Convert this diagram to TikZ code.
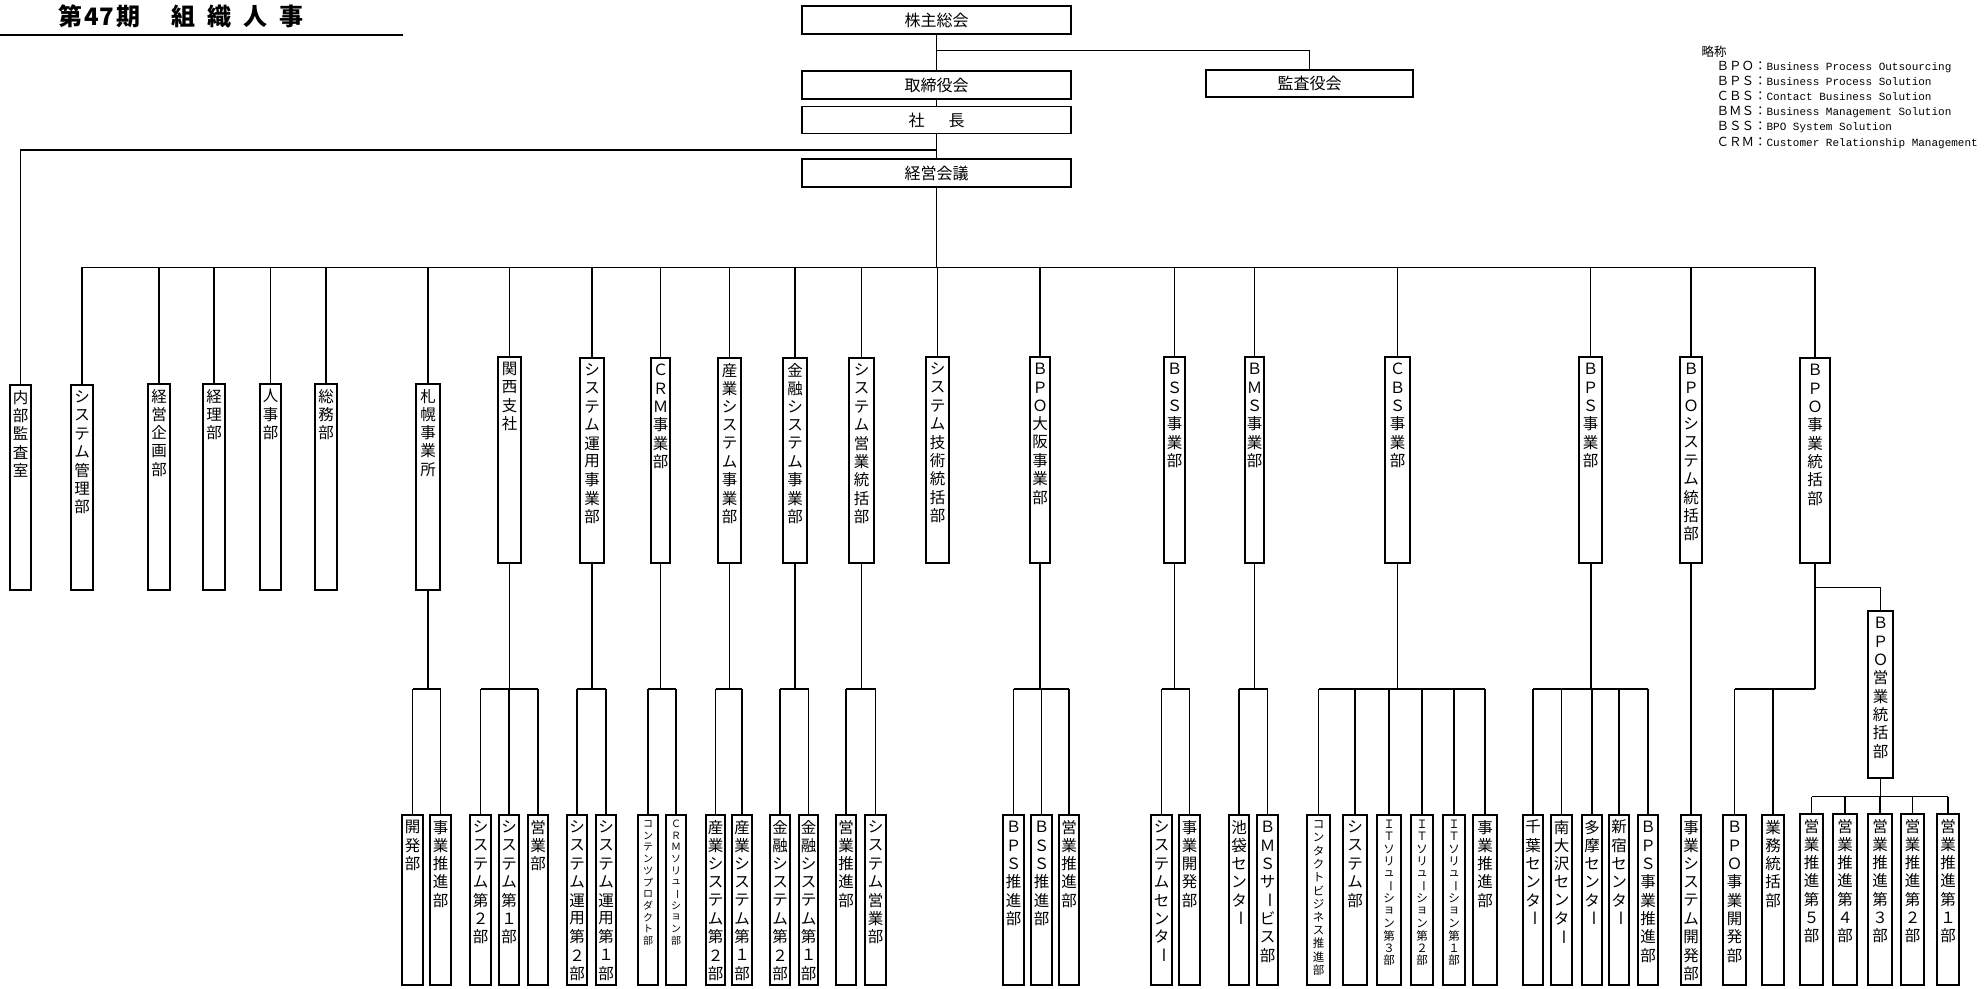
\documentclass[tikz,border=0pt]{standalone}
\usepackage{fontspec}
\usepackage{graphicx}
\setmainfont{Noto Sans CJK JP}
\newfontfamily\lmono{Liberation Mono}
\ExplSyntaxOn
\NewDocumentCommand\vtchar{m}{\str_if_eq:nnTF{#1}{ー}{\rotatebox[origin=c]{-90}{ー}}{#1}}
\NewDocumentCommand\vcol{mmmmm}{
  \vbox to #2 {
    \offinterlineskip
    \fontsize{#3}{#3}\selectfont
    \kern3pt
    \tl_map_inline:nn {#5}{
      \vbox to #4 {\vss\hbox to #1 {\hss\vtchar{##1}\hss}\vss}
    }
    \vss
  }
}
\ExplSyntaxOff
\newcommand\vbs[8]{\node[vbx] (#1) at ({(#2+#3)/2},{(#4+#5)/2}) {\vcol{\dimexpr#3pt-#2pt\relax}{\dimexpr#5pt-#4pt\relax}{#6}{#7}{#8}};}
\newcommand\vb[6]{\vbs{#1}{#2}{#3}{#4}{#5}{15.5pt}{18.3pt}{#6}}
\newcommand\vbb[4]{\vb{#1}{#2}{#3}{815}{985}{#4}}
\newcommand\grp[4]{%
  \draw (#1.south) -- (#1.south |- lvl2);
  \draw (#2.north |- lvl2) -- (#3.north |- lvl2);
  \foreach \c in {#4} {\draw (\c.north) -- (\c.north |- lvl2);}
}
\begin{document}
\begin{tikzpicture}[x=1pt,y=-1pt,line width=1.1pt,
  vbx/.style={draw,inner sep=0pt,outer sep=0pt,anchor=center},
  hbx/.style={draw,inner sep=0pt,outer sep=0pt,anchor=center,minimum width=269pt,minimum height=28pt,font=\fontsize{16}{16}\selectfont},
  leg/.style={anchor=base west,inner sep=0pt,font=\fontsize{12.5}{12.5}\selectfont}]
\useasboundingbox (0,0) rectangle (1984,988);
\fill[white] (0,0) rectangle (1984,988);

% title
\node[anchor=base west,inner sep=0pt,font=\bfseries\fontsize{24}{24}\selectfont] (title) at (58,25)
  {第\makebox[34pt]{47}期\hspace{31pt}組\hspace{12pt}織\hspace{12pt}人\hspace{12pt}事};
\coordinate (ulA) at (0,35);
\coordinate (ulB) at (403,35);
\draw[line width=2.5pt] (ulA) -- (ulB);

% legend
\node[leg] (l0) at (1701,56) {略称};
\node[leg] (l1) at (1716,70) {ＢＰＯ：{\lmono\fontsize{11}{11}\selectfont Business Process Outsourcing}};
\node[leg] (l2) at (1716,85) {ＢＰＳ：{\lmono\fontsize{11}{11}\selectfont Business Process Solution}};
\node[leg] (l3) at (1716,100) {ＣＢＳ：{\lmono\fontsize{11}{11}\selectfont Contact Business Solution}};
\node[leg] (l4) at (1716,115) {ＢＭＳ：{\lmono\fontsize{11}{11}\selectfont Business Management Solution}};
\node[leg] (l5) at (1716,130.5) {ＢＳＳ：{\lmono\fontsize{11}{11}\selectfont BPO System Solution}};
\node[leg] (l6) at (1716,146) {ＣＲＭ：{\lmono\fontsize{11}{11}\selectfont Customer Relationship Management}};

% top boxes
\node[hbx] (kabu) at (936.5,20) {株主総会};
\node[hbx] (tori) at (936.5,85) {取締役会};
\node[hbx,minimum width=207pt,minimum height=27pt] (kansa) at (1309.5,83.5) {監査役会};
\node[hbx,minimum height=27pt] (shacho) at (936.5,120) {社\hspace{24pt}長};
\node[hbx] (keiei) at (936.5,173) {経営会議};

% level 1
\vb{naibu}{10}{31}{385}{590}{内部監査室}
\vb{sysk}{71}{93}{385}{590}{システム管理部}
\vb{keiki}{148}{170}{384}{590}{経営企画部}
\vb{keiri}{203}{225}{384}{590}{経理部}
\vb{jinji}{260}{281}{384}{590}{人事部}
\vb{soumu}{315}{337}{384}{590}{総務部}
\vb{sapporo}{416}{440}{384}{590}{札幌事業所}
\vb{kansai}{498}{521}{357}{563}{関西支社}
\vb{unyo}{580}{604}{358}{563}{システム運用事業部}
\vb{crm}{651}{670}{358}{563}{ＣＲＭ事業部}
\vb{sangyo}{718}{741}{358}{563}{産業システム事業部}
\vb{kinyu}{783}{807}{358}{563}{金融システム事業部}
\vb{syseig}{849}{874}{358}{563}{システム営業統括部}
\vb{gijutsu}{926}{949}{357}{563}{システム技術統括部}
\vb{osaka}{1030}{1050}{357}{563}{ＢＰＯ大阪事業部}
\vb{bss}{1164}{1185}{357}{563}{ＢＳＳ事業部}
\vb{bms}{1245}{1264}{357}{563}{ＢＭＳ事業部}
\vb{cbs}{1385}{1410}{357}{563}{ＣＢＳ事業部}
\vb{bps}{1579}{1602}{357}{563}{ＢＰＳ事業部}
\vb{bposys}{1680}{1702}{357}{563}{ＢＰＯシステム統括部}
\vb{bpojg}{1800}{1830}{358}{563}{ＢＰＯ事業統括部}
\vb{bpoeig}{1868}{1893}{611}{778}{ＢＰＯ営業統括部}

% level 2
\vbb{kaihatsu}{402}{423}{開発部}
\vbb{sjs}{430}{451}{事業推進部}
\vbb{ks2}{470}{491}{システム第２部}
\vbb{ks1}{499}{519}{システム第１部}
\vbb{keig}{528}{548}{営業部}
\vbb{un2}{567}{587}{システム運用第２部}
\vbb{un1}{596}{616}{システム運用第１部}
\vbs{cont}{638}{658}{815}{985}{10pt}{11.7pt}{コンテンツプロダクト部}
\vbs{crms}{666}{686}{815}{985}{10pt}{11.7pt}{ＣＲＭソリューション部}
\vbb{sg2}{706}{725}{産業システム第２部}
\vbb{sg1}{732}{752}{産業システム第１部}
\vbb{kn2}{770}{790}{金融システム第２部}
\vbb{kn1}{799}{818}{金融システム第１部}
\vbb{ses}{836}{856}{営業推進部}
\vbb{syse}{865}{886}{システム営業部}
\vbb{bpss}{1003}{1024}{ＢＰＳ推進部}
\vbb{bsss}{1031}{1052}{ＢＳＳ推進部}
\vbb{osei}{1059}{1079}{営業推進部}
\vbb{syscen}{1151}{1172}{システムセンター}
\vbb{jkh}{1179}{1200}{事業開発部}
\vbb{ikeb}{1229}{1249}{池袋センター}
\vbb{bmss}{1257}{1278}{ＢＭＳサービス部}
\vbs{ctbs}{1307}{1330}{815}{985}{11.5pt}{13.2pt}{コンタクトビジネス推進部}
\vbb{cbsys}{1343}{1367}{システム部}
\vbs{it3}{1377}{1401}{815}{985}{11.5pt}{12.4pt}{ＩＴソリューション第３部}
\vbs{it2}{1411}{1433}{815}{985}{11.5pt}{12.4pt}{ＩＴソリューション第２部}
\vbs{it1}{1443}{1465}{815}{985}{11.5pt}{12.4pt}{ＩＴソリューション第１部}
\vbb{cbsj}{1473}{1497}{事業推進部}
\vbb{chiba}{1523}{1543}{千葉センター}
\vbb{minami}{1551}{1572}{南大沢センター}
\vbb{tama}{1582}{1602}{多摩センター}
\vbb{shinj}{1609}{1629}{新宿センター}
\vbb{bpsj}{1638}{1658}{ＢＰＳ事業推進部}
\vbb{jsk}{1681}{1701}{事業システム開発部}
\vbb{bpokh}{1723}{1746}{ＢＰＯ事業開発部}
\vbb{gyomu}{1762}{1784}{業務統括部}
\vb{e5}{1800}{1823}{814}{985}{営業推進第５部}
\vb{e4}{1833}{1857}{814}{985}{営業推進第４部}
\vb{e3}{1868}{1892}{814}{985}{営業推進第３部}
\vb{e2}{1901}{1924}{814}{985}{営業推進第２部}
\vb{e1}{1937}{1959}{814}{985}{営業推進第１部}

% top connectors
\coordinate (j1) at (936.5,50.7);
\coordinate (j2) at (936.5,150);
\coordinate (busL) at (82.5,267.3);
\coordinate (busR) at (1815,267.3);
\coordinate (lvl2) at (0,689);
\coordinate (lvl3) at (0,796.7);
\coordinate (b587) at (0,587.3);
\draw (kabu.south) -- (tori.north);
\draw (j1) -| (kansa.north);
\draw (tori.south) -- (shacho.north);
\draw (shacho.south) -- (keiei.north);
\draw (j2) -| (naibu.north);
\draw (keiei.south) -- (keiei.south |- busL);
\draw (busL) -- (busR);
\foreach \n in {sysk,keiki,keiri,jinji,soumu,sapporo,kansai,unyo,crm,sangyo,kinyu,syseig,gijutsu,osaka,bss,bms,cbs,bps,bposys,bpojg}
  {\draw (\n.north) -- (\n.north |- busL);}

% level 2 connectors
\grp{sapporo}{kaihatsu}{sjs}{kaihatsu,sjs}
\grp{kansai}{ks2}{keig}{ks2,ks1,keig}
\draw[line width=1.7pt] (kansai.south) -- (kansai.south |- lvl2);
\grp{unyo}{un2}{un1}{un2,un1}
\grp{crm}{cont}{crms}{cont,crms}
\grp{sangyo}{sg2}{sg1}{sg2,sg1}
\grp{kinyu}{kn2}{kn1}{kn2,kn1}
\grp{syseig}{ses}{syse}{ses,syse}
\grp{osaka}{bpss}{osei}{bpss,bsss,osei}
\grp{bss}{syscen}{jkh}{syscen,jkh}
\grp{bms}{ikeb}{bmss}{ikeb,bmss}
\grp{cbs}{ctbs}{cbsj}{ctbs,cbsys,it3,it2,it1,cbsj}
\grp{bps}{chiba}{bpsj}{chiba,minami,tama,shinj,bpsj}
\draw[line width=2pt] (bps.south) -- (bps.south |- lvl2);
\draw (bposys.south) -- (jsk.north);
\draw (bpojg.south) -- (bpojg.south |- lvl2);
\draw (bpokh.north |- lvl2) -- (bpojg.south |- lvl2);
\foreach \c in {bpokh,gyomu} {\draw (\c.north) -- (\c.north |- lvl2);}
\draw (bpojg.south |- b587) -| (bpoeig.north);
\draw (bpoeig.south) -- (bpoeig.south |- lvl3);
\draw (e5.north |- lvl3) -- (e1.north |- lvl3);
\foreach \c in {e5,e4,e3,e2,e1} {\draw (\c.north) -- (\c.north |- lvl3);}
\end{tikzpicture}
\end{document}
